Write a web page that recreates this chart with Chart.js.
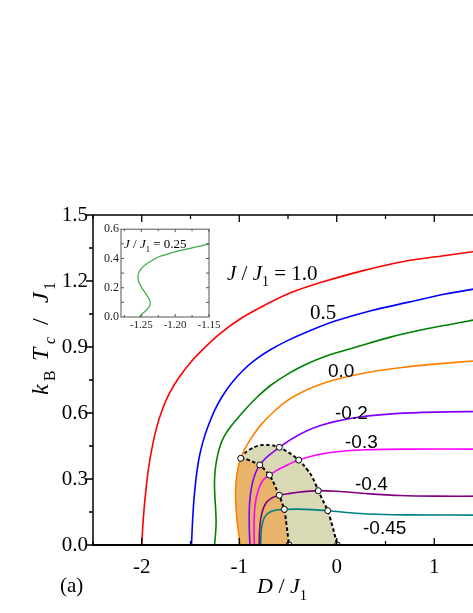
<!DOCTYPE html>
<html><head><meta charset="utf-8">
<script src="https://cdn.jsdelivr.net/npm/chart.js@4.4.1/dist/chart.umd.min.js"></script>
<style>
html,body{margin:0;padding:0;background:#fff;overflow:hidden;width:473px;height:613px;}
#wrap{position:relative;width:473px;height:613px;overflow:hidden;}
#main{position:absolute;left:0;top:0;}
#inset{position:absolute;left:85px;top:220px;}
</style></head><body>
<div id="wrap"><canvas id="main" width="520" height="613"></canvas><canvas id="inset" width="150" height="120"></canvas></div>
<script>
// ---- axis ticks ----
const xTicks = [-2, -1, 0, 1];
const xMinor = [-2.5, -1.5, -0.5, 0.5, 1.5];
const yTicks = [0, 0.3, 0.6, 0.9, 1.2, 1.5];
const yMinor = [0.15, 0.45, 0.75, 1.05, 1.35];
const insetXTicks = [-1.25, -1.20, -1.15];
const insetYTicks = [0, 0.2, 0.4, 0.6];

// ---- series: J/J1 values ----
const seriesNames = ['1.0', '0.5', '0.25', '0.0', '-0.2', '-0.3', '-0.4', '-0.45'];

const dJ10 = [-2.000,-1.990,-1.975,-1.955,-1.930,-1.895,-1.850,-1.790,-1.715,-1.620,-1.500,-1.360,-1.200,-1.000,-0.760,-0.480,-0.150,0.250,0.700,1.100,1.500];
const tJ10 = [0,0.08,0.17,0.26,0.35,0.44,0.53,0.615,0.69,0.76,0.83,0.895,0.96,1.025,1.085,1.145,1.195,1.245,1.29,1.315,1.34];

const dJ05 = [-1.490,-1.482,-1.472,-1.458,-1.438,-1.410,-1.372,-1.320,-1.255,-1.175,-1.080,-0.970,-0.840,-0.690,-0.500,-0.270,0,0.350,0.750,1.100,1.500];
const tJ05 = [0,0.08,0.16,0.24,0.32,0.40,0.47,0.54,0.61,0.675,0.735,0.79,0.84,0.885,0.93,0.975,1.02,1.065,1.105,1.14,1.17];

const dJ025 = [-1.253,-1.245,-1.239,-1.238,-1.243,-1.250,-1.254,-1.252,-1.244,-1.230,-1.210,-1.180,-1.140,-1.085,-1.010,-0.920,-0.810,-0.680,-0.520,-0.330,-0.100,0.200,0.550,0.950,1.500];
const tJ025 = [0,0.04,0.08,0.12,0.17,0.22,0.27,0.31,0.35,0.39,0.43,0.47,0.505,0.54,0.58,0.625,0.675,0.725,0.772,0.818,0.86,0.90,0.945,0.985,1.03];

const dJ00 = [-0.99,-1.005,-1.02,-1.032,-1.038,-1.034,-1.02,-1.005,-0.985,-0.95,-0.90,-0.84,-0.76,-0.66,-0.548,-0.40,-0.22,0,0.3,0.65,1.0,1.5];
const tJ00 = [0,0.05,0.10,0.16,0.22,0.28,0.33,0.365,0.394,0.43,0.47,0.51,0.555,0.60,0.644,0.685,0.722,0.753,0.783,0.806,0.822,0.84];

const dJm02 = [-0.89,-0.896,-0.898,-0.895,-0.885,-0.866,-0.835,-0.79,-0.74,-0.69,-0.589,-0.45,-0.30,-0.15,0,0.25,0.6,1.0,1.5];
const tJm02 = [0,0.06,0.12,0.18,0.23,0.28,0.325,0.364,0.39,0.41,0.444,0.485,0.52,0.545,0.563,0.583,0.597,0.604,0.607];

const dJm03 = [-0.845,-0.848,-0.847,-0.84,-0.825,-0.80,-0.765,-0.72,-0.69,-0.60,-0.50,-0.39,-0.2,0,0.3,0.7,1.5];
const tJm03 = [0,0.06,0.12,0.17,0.215,0.255,0.29,0.31,0.318,0.343,0.365,0.386,0.41,0.424,0.433,0.436,0.436];

const dJm04 = [-0.795,-0.793,-0.785,-0.77,-0.75,-0.72,-0.68,-0.63,-0.589,-0.5,-0.4,-0.19,0,0.3,0.65,1.0,1.5];
const tJm04 = [0,0.05,0.10,0.14,0.17,0.194,0.21,0.22,0.226,0.233,0.24,0.247,0.244,0.234,0.225,0.222,0.222];

const dJm045 = [-0.78,-0.778,-0.77,-0.755,-0.735,-0.70,-0.65,-0.6,-0.537,-0.4,-0.25,-0.092,0.1,0.31,0.7,1.5];
const tJm045 = [0,0.04,0.08,0.11,0.13,0.146,0.156,0.16,0.162,0.163,0.161,0.156,0.148,0.141,0.137,0.136];

// ---- phase boundaries (dashed) ----
const dInner = [-0.985,-0.94,-0.889,-0.84,-0.79,-0.74,-0.69,-0.655,-0.62,-0.589,-0.56,-0.537,-0.52,-0.505,-0.489];
const tInner = [0.394,0.392,0.383,0.375,0.364,0.343,0.318,0.29,0.255,0.226,0.19,0.162,0.11,0.055,0];
const dOuter = [-0.985,-0.93,-0.855,-0.78,-0.718,-0.65,-0.589,-0.49,-0.39,-0.33,-0.274,-0.23,-0.19,-0.14,-0.092,-0.06,-0.035,-0.015,0.006];
const tOuter = [0.394,0.423,0.443,0.454,0.455,0.452,0.444,0.42,0.386,0.358,0.326,0.29,0.247,0.20,0.156,0.11,0.07,0.035,0];

// ---- crossing points (open circles) ----
const dDots = [-0.985,-0.79,-0.589,-0.69,-0.39,-0.589,-0.19,-0.537,-0.092,-0.489,0.006];
const tDots = [0.394,0.364,0.444,0.318,0.386,0.226,0.247,0.162,0.156,0,0];

// ---- inset: J/J1 = 0.25 close-up ----
const dInset = [-1.253,-1.249,-1.244,-1.239,-1.237,-1.238,-1.242,-1.248,-1.253,-1.255,-1.254,-1.250,-1.243,-1.233,-1.222,-1.208,-1.192,-1.175,-1.16,-1.15];
const tInset = [0,0.02,0.04,0.065,0.09,0.12,0.15,0.19,0.23,0.27,0.30,0.33,0.36,0.39,0.415,0.435,0.455,0.472,0.488,0.50];

const zip = (xs, ys) => xs.map((x, i) => ({x: x, y: ys[i]}));
const colors = ['#ff0000','#0000ff','#008000','#ff8000','#8000ff','#ff00ff','#800080','#008080'];
const curveData = [[dJ10,tJ10],[dJ05,tJ05],[dJ025,tJ025],[dJ00,tJ00],[dJm02,tJm02],[dJm03,tJm03],[dJm04,tJm04],[dJm045,tJm045]];

const SERIF = '"Liberation Serif", "Times New Roman", serif';
const SANS = '"Liberation Sans", Arial, sans-serif';

function drawRich(ctx, parts, x, y, size, family) {
  let cx = x;
  for (const p of parts) {
    const s = p.sub ? size * 0.66 : size;
    ctx.font = (p.it ? 'italic ' : '') + s + 'px ' + family;
    const dy = p.sub ? size * 0.3 : 0;
    const px = (p.at !== undefined) ? x + p.at : cx;
    ctx.fillText(p.t, px, y + dy);
    cx = px + ctx.measureText(p.t).width;
  }
}

const datasets = [];
datasets.push({label:'dots', data: zip(dDots, tDots), showLine:false, pointRadius:3, pointBackgroundColor:'#ffffff', pointBorderColor:'#000000', pointBorderWidth:1});
datasets.push({label:'inner', data: zip(dInner, tInner), showLine:true, borderColor:'#000', borderWidth:2, borderDash:[3.5,2.5], pointRadius:0, tension:0.2, fill:false});
datasets.push({label:'outer', data: zip(dOuter, tOuter), showLine:true, borderColor:'#000', borderWidth:2, borderDash:[3.5,2.5], pointRadius:0, tension:0.2, fill:false});
curveData.forEach((c, i) => {
  datasets.push({label:'J/J1=' + seriesNames[i], data: zip(c[0], c[1]), showLine:true, borderColor: colors[i], borderWidth:1.6, pointRadius:0, tension:0.3, fill:false});
});

function polygonPath(ctx, xs, ys, sx, sy, first) {
  xs.forEach((x, i) => {
    const px = sx.getPixelForValue(x), py = sy.getPixelForValue(ys[i]);
    if (first && i === 0) ctx.moveTo(px, py); else ctx.lineTo(px, py);
  });
}

const fillPlugin = {
  id: 'regions',
  beforeDatasetsDraw(chart) {
    const ctx = chart.ctx, a = chart.chartArea, sx = chart.scales.x, sy = chart.scales.y;
    ctx.save();
    ctx.beginPath(); ctx.rect(a.left, a.top, a.right - a.left, a.bottom - a.top); ctx.clip();
    const nEdge = tJ00.indexOf(tDots[0]) + 1;
    ctx.beginPath();
    polygonPath(ctx, dJ00.slice(0, nEdge), tJ00.slice(0, nEdge), sx, sy, true);
    polygonPath(ctx, dInner, tInner, sx, sy, false);
    ctx.closePath();
    ctx.fillStyle = '#e8b46c'; ctx.fill();
    ctx.beginPath();
    polygonPath(ctx, dOuter, tOuter, sx, sy, true);
    polygonPath(ctx, dInner.slice().reverse(), tInner.slice().reverse(), sx, sy, false);
    ctx.closePath();
    ctx.fillStyle = '#d9d9b5'; ctx.fill();
    ctx.restore();
  },
  afterDraw(chart) {
    const ctx = chart.ctx, a = chart.chartArea, sx = chart.scales.x, sy = chart.scales.y;
    ctx.save();
    ctx.strokeStyle = '#000';
    ctx.lineWidth = 1.5;
    ctx.beginPath();
    ctx.moveTo(a.left, a.top); ctx.lineTo(a.right, a.top);
    ctx.moveTo(a.left, a.top); ctx.lineTo(a.left, a.bottom);
    ctx.moveTo(a.right, a.top); ctx.lineTo(a.right, a.bottom);
    ctx.stroke();
    ctx.lineWidth = 2.2;
    ctx.beginPath(); ctx.moveTo(a.left - 1, a.bottom); ctx.lineTo(a.right, a.bottom); ctx.stroke();
    ctx.lineWidth = 1.3;
    ctx.beginPath();
    xTicks.forEach(v => { const p = sx.getPixelForValue(v); ctx.moveTo(p, a.bottom); ctx.lineTo(p, a.bottom - 7); ctx.moveTo(p, a.top); ctx.lineTo(p, a.top + 7); });
    xMinor.forEach(v => { const p = sx.getPixelForValue(v); ctx.moveTo(p, a.bottom); ctx.lineTo(p, a.bottom - 4); ctx.moveTo(p, a.top); ctx.lineTo(p, a.top + 4); });
    yTicks.forEach(v => { const p = sy.getPixelForValue(v); ctx.moveTo(a.left, p); ctx.lineTo(a.left - 7, p); });
    yMinor.forEach(v => { const p = sy.getPixelForValue(v); ctx.moveTo(a.left, p); ctx.lineTo(a.left - 4, p); });
    ctx.stroke();

    ctx.fillStyle = '#000';
    ctx.textBaseline = 'alphabetic';
    ctx.textAlign = 'left';
    drawRich(ctx, [{t:'J',it:1},{t:' / '},{t:'J',it:1},{t:'1',sub:1},{t:' = ' + seriesNames[0]}], 227, 280, 21, SERIF);
    drawRich(ctx, [{t:seriesNames[1]}], 310, 319, 21, SERIF);
    drawRich(ctx, [{t:seriesNames[3]}], 328, 377, 19, SANS);
    drawRich(ctx, [{t:seriesNames[4]}], 335, 419, 19, SANS);
    drawRich(ctx, [{t:seriesNames[5]}], 345, 448, 19, SANS);
    drawRich(ctx, [{t:seriesNames[6]}], 355, 490, 19, SANS);
    drawRich(ctx, [{t:seriesNames[7]}], 363, 534, 19, SANS);
    // axis titles
    drawRich(ctx, [{t:'D',it:1},{t:' / '},{t:'J',it:1},{t:'1',sub:1}], 257, 593, 22, SERIF);
    drawRich(ctx, [{t:'(a)'}], 60, 592, 21, SERIF);
    ctx.translate(48, 395);
    ctx.rotate(-Math.PI / 2);
    drawRich(ctx, [{t:'k',it:1,at:0},{t:'B',sub:1,at:14},{t:'T',it:1,at:34},{t:'c',sub:1,it:1,at:51},{t:'/',at:70},{t:'J',it:1,at:92},{t:'1',sub:1,at:105}], 0, 0, 24, SERIF);
    ctx.restore();
  }
};

new Chart(document.getElementById('main'), {
  type: 'scatter',
  data: {datasets: datasets},
  options: {
    responsive: false, animation: false, devicePixelRatio: 1,
    layout: {padding: {top: 215, right: 37, left: 0, bottom: 0}},
    plugins: {legend: {display: false}, tooltip: {enabled: false}},
    scales: {
      x: {type: 'linear', min: -2.5, max: 1.5,
          grid: {display: false, drawTicks: false}, border: {display: false},
          afterBuildTicks: s => { s.ticks = xTicks.map(v => ({value: v})); },
          afterFit: s => { s.height = 68; },
          ticks: {font: {family: SERIF, size: 21}, color: '#000', padding: 10, maxRotation: 0, autoSkip: false,
                  callback: v => String(v)}},
      y: {type: 'linear', min: 0, max: 1.5,
          grid: {display: false, drawTicks: false}, border: {display: false},
          afterBuildTicks: s => { s.ticks = yTicks.map(v => ({value: v})); },
          afterFit: s => { s.width = 93; },
          ticks: {font: {family: SERIF, size: 21}, color: '#000', padding: 5, autoSkip: false,
                  callback: v => Number(v).toFixed(1)}}
    }
  },
  plugins: [fillPlugin]
});

// ---- inset ----
const insetPlugin = {
  id: 'insetFrame',
  afterDraw(chart) {
    const ctx = chart.ctx, a = chart.chartArea, sx = chart.scales.x, sy = chart.scales.y;
    ctx.save();
    ctx.strokeStyle = '#555'; ctx.lineWidth = 1;
    ctx.strokeRect(a.left, a.top, a.right - a.left, a.bottom - a.top);
    ctx.beginPath();
    [-1.275,-1.25,-1.225,-1.20,-1.175,-1.15].forEach(v => {
      const p = sx.getPixelForValue(v); const len = (insetXTicks.indexOf(v) >= 0) ? 3 : 2;
      ctx.moveTo(p, a.bottom); ctx.lineTo(p, a.bottom - len); ctx.moveTo(p, a.top); ctx.lineTo(p, a.top + len);
    });
    [0.1,0.2,0.3,0.4,0.5].forEach(v => {
      const p = sy.getPixelForValue(v);
      ctx.moveTo(a.left, p); ctx.lineTo(a.left + 3, p); ctx.moveTo(a.right, p); ctx.lineTo(a.right - 3, p);
    });
    ctx.stroke();
    ctx.fillStyle = '#000';
    drawRich(ctx, [{t:'J',it:1},{t:' / '},{t:'J',it:1},{t:'1',sub:1},{t:' = ' + seriesNames[2]}], 124 - 85, 248 - 220, 13, SERIF);
    ctx.restore();
  }
};

new Chart(document.getElementById('inset'), {
  type: 'scatter',
  data: {datasets: [{data: zip(dInset, tInset), showLine: true, borderColor: '#3faa3f', borderWidth: 1.2, pointRadius: 0, tension: 0.3}]},
  options: {
    responsive: false, animation: false, devicePixelRatio: 1,
    layout: {padding: {top: 9, right: 26, left: 0, bottom: 0}},
    plugins: {legend: {display: false}, tooltip: {enabled: false}},
    scales: {
      x: {type: 'linear', min: -1.28, max: -1.15,
          grid: {display: false, drawTicks: false}, border: {display: false},
          afterBuildTicks: s => { s.ticks = insetXTicks.map(v => ({value: v})); },
          afterFit: s => { s.height = 23; },
          ticks: {font: {family: SERIF, size: 11}, color: '#222', padding: 2, maxRotation: 0, autoSkip: false,
                  callback: v => Number(v).toFixed(2)}},
      y: {type: 'linear', min: 0, max: 0.6,
          grid: {display: false, drawTicks: false}, border: {display: false},
          afterBuildTicks: s => { s.ticks = insetYTicks.map(v => ({value: v})); },
          afterFit: s => { s.width = 36; },
          ticks: {font: {family: SERIF, size: 12}, color: '#222', padding: 2, autoSkip: false,
                  callback: v => Number(v).toFixed(1)}}
    }
  },
  plugins: [insetPlugin]
});
</script>
</body></html>
